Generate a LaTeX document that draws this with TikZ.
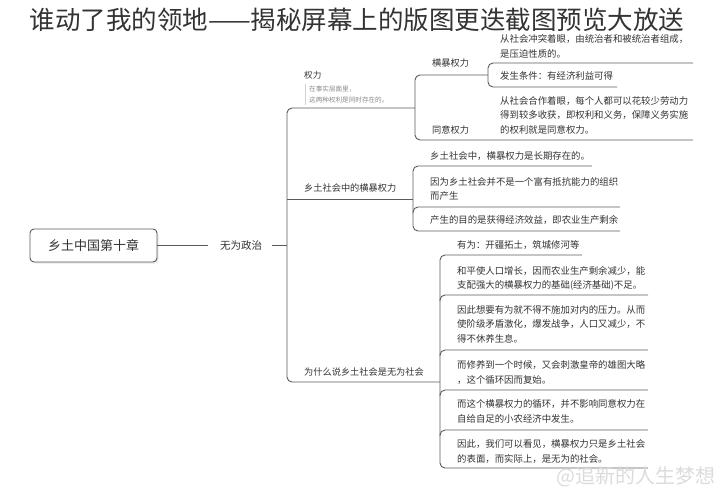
\documentclass[tikz,border=0pt]{standalone}
\usepackage{fontspec}
\setmainfont{Noto Sans CJK SC}
\definecolor{txt}{HTML}{333333}
\definecolor{ln}{HTML}{5A5A5A}
\definecolor{note}{HTML}{8A8A8A}
\begin{document}
\begin{tikzpicture}[x=1pt,y=-1pt,
  conn/.style={draw=ln,line width=0.9pt,rounded corners=5pt},
  lab/.style={anchor=west,inner sep=0pt,text=txt,font=\fontsize{9.2}{11}\selectfont},
  item/.style={anchor=west,inner sep=0pt,text=txt,align=left,font=\fontsize{9.4}{14.5}\selectfont},
  smallnote/.style={anchor=west,inner sep=0pt,text=note,align=left,font=\fontsize{6.6}{11}\selectfont}]
\useasboundingbox (0,0) rectangle (722,500);
% title
\node[inner sep=0pt,text=txt,font=\fontsize{25.5}{28}\selectfont] (title) at (357,20) {谁动了我的领地——揭秘屏幕上的版图更迭截图预览大放送};
% root
\fill[gray!18,rounded corners=4pt] (31.5,230.5) rectangle (158.5,263.5);
\node[draw=ln,line width=0.9pt,fill=white,rounded corners=4pt,minimum width=127pt,minimum height=33pt,inner sep=0pt,text=txt,font=\fontsize{13}{15}\selectfont] (root) at (93.5,245.5) {乡土中国第十章};
\node[lab,font=\fontsize{10.5}{12}\selectfont] (wu) at (220,245.5) {无为政治};
\draw[conn,shorten >=12pt] (root.east) -- (wu.west);
\coordinate (sp) at (287,245.5);
\draw[conn,shorten <=10pt] (wu.east) -- (sp);
% spine
\coordinate (aJ) at (415,108);
\coordinate (bJ) at (413,199);
\coordinate (cJ) at (440,382);
\draw[conn] (aJ) -- (287,108) -- (287,382) -- (cJ);
\draw[conn] (287,199) -- (bJ);
% branch A
\node[lab,font=\fontsize{8.6}{10}\selectfont] (quanli) at (304,75) {权力};
\fill[gray!35] (304.5,84) rectangle (305.6,105);
\node[smallnote] (qnote) at (309,94.5) {在事实层面里，\\这两种权利是同时存在的。};
\node[lab] (hb) at (432,63) {横暴权力};
\node[lab] (ty) at (432,130) {同意权力};
\coordinate (hbJ) at (488,75);
\draw[conn] (hbJ) -- (415,75) -- (415,140) -- (693,140);
\node[item] (a1) at (500,46.5) {从社会冲突着眼，由统治者和被统治者组成，\\是压迫性质的。};
\node[item] (a2) at (500,76) {发生条件：有经济利益可得};
\node[item] (a3) at (500,115) {从社会合作着眼，每个人都可以花较少劳动力\\得到较多收获，即权利和义务，保障义务实施\\的权利就是同意权力。};
\draw[conn] (693,63) -- (488,63) -- (488,87) -- (617,87);
% branch B
\node[lab] (xt) at (304,188) {乡土社会中的横暴权力};
\draw[conn] (592,166) -- (413,166) -- (413,231) -- (620,231);
\draw[conn] (413,213) -- (413,207) -- (620,207);
\node[item] (b1) at (430,156) {乡土社会中，横暴权力是长期存在的。};
\node[item] (b2) at (430,189) {因为乡土社会并不是一个富有抵抗能力的组织\\而产生};
\node[item] (b3) at (430,220) {产生的目的是获得经济效益，即农业生产剩余};
% branch C
\node[lab] (ws) at (304,372) {为什么说乡土社会是无为社会};
\draw[conn] (582,255) -- (440,255) -- (440,468) -- (648,468);
\foreach \yy in {295,350,390,430}{
  \draw[conn] (440,\yy+6) -- (440,\yy) -- (648,\yy);
}
\node[item] (c1) at (457,245) {有为：开疆拓土，筑城修河等};
\node[item] (c2) at (457,278.5) {和平使人口增长，因而农业生产剩余减少，能\\支配强大的横暴权力的基础(经济基础)不足。};
\node[item] (c3) at (457,324) {因此想要有为就不得不施加对内的压力。从而\\使阶级矛盾激化，爆发战争，人口又减少，不\\得不休养生息。};
\node[item] (c4) at (457,372.5) {而修养到一个时候，又会刺激皇帝的雄图大略\\，这个循环因而复始。};
\node[item] (c5) at (457,411.5) {而这个横暴权力的循环，并不影响同意权力在\\自给自足的小农经济中发生。};
\node[item] (c6) at (457,451.5) {因此，我们可以看见，横暴权力只是乡土社会\\的表面，而实际上，是无为的社会。};
% watermark
\node[inner sep=0pt,text=gray!28,font=\fontsize{20}{22}\selectfont] (wm) at (636,477) {@追新的人生梦想};
\end{tikzpicture}
\end{document}
